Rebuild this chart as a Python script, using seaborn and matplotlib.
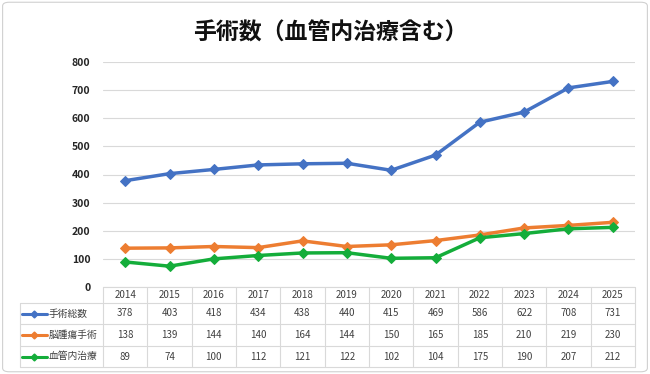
import numpy as np
import pandas as pd
import seaborn as sns
import matplotlib.pyplot as plt
from matplotlib.lines import Line2D
from matplotlib.patches import FancyBboxPatch

sns.set_theme(style="white")
plt.rcParams['font.family'] = ['Noto Sans CJK JP', 'DejaVu Sans']

years = [2014, 2015, 2016, 2017, 2018, 2019, 2020, 2021, 2022, 2023, 2024, 2025]
total = [378, 403, 418, 434, 438, 440, 415, 469, 586, 622, 708, 731]
brain_tumor = [138, 139, 144, 140, 164, 144, 150, 165, 185, 210, 219, 230]
endovascular = [89, 74, 100, 112, 121, 122, 102, 104, 175, 190, 207, 212]
series_names = ['手術総数', '脳腫瘍手術', '血管内治療']
colors = ['#4472C4', '#ED7D31', '#14AD3A']

df = pd.DataFrame({'idx': np.arange(len(years)), '手術総数': total,
                   '脳腫瘍手術': brain_tumor, '血管内治療': endovascular})

W, H = 650, 374
fig = plt.figure(figsize=(W / 100, H / 100), dpi=100)

# main plot area
ax = fig.add_axes([103 / W, 1 - 287 / H, 532 / W, 225 / H])
for name, c in zip(series_names, colors):
    sns.lineplot(data=df, x='idx', y=name, color=c, marker='D', markersize=5,
                 markeredgecolor=c, linewidth=2.5, ax=ax)
ax.set_xlim(-0.5, len(years) - 0.5)
ax.set_ylim(0, 800)
ax.set_yticks(range(0, 801, 100))
ax.set_xticks([])
ax.set_xlabel('')
ax.set_ylabel('')
ax.yaxis.grid(True, color='#d9d9d9', linewidth=0.8)
ax.set_axisbelow(True)
for s in ax.spines.values():
    s.set_visible(False)
ax.tick_params(axis='y', length=0, pad=9, labelsize=7.5)
for lab in ax.get_yticklabels():
    lab.set_fontweight('bold')

# data table under the plot
tax = fig.add_axes([20 / W, 1 - 367 / H, 615 / W, 80 / H])
lab_w = 83 / (532 / len(years))
x0 = -0.5 - lab_w
x1 = len(years) - 0.5
tax.set_xlim(x0, x1)
tax.set_ylim(80, 0)
tax.axis('off')
gc = '#d9d9d9'
row_edges = [16, 37, 59, 80]
for y in row_edges:
    tax.plot([x0, x1], [y, y], color=gc, lw=0.8, clip_on=False)
tax.plot([-0.5, x1], [0, 0], color=gc, lw=0.8, clip_on=False)
for k in range(len(years) + 1):
    tax.plot([-0.5 + k, -0.5 + k], [0, 80], color=gc, lw=0.8, clip_on=False)
tax.plot([x0, x0], [16, 80], color=gc, lw=0.8, clip_on=False)

for i, yr in enumerate(years):
    tax.text(i, 8.5, str(yr), ha='center', va='center', fontsize=7, color='#404040')

row_mid = [26.5, 48, 69.5]
for r, (name, c) in enumerate(zip(series_names, colors)):
    ym = row_mid[r]
    gx = [x0 + 0.05, x0 + 0.6]
    tax.add_line(Line2D(gx, [ym, ym], color=c, lw=2.2, clip_on=False))
    tax.add_line(Line2D([np.mean(gx)], [ym], color=c, marker='D', markersize=3.5,
                        clip_on=False))
    tax.text(x0 + 0.64, ym, name, ha='left', va='center', fontsize=7, color='#404040')
    for i, v in enumerate(df[name]):
        tax.text(i, ym, str(v), ha='center', va='center', fontsize=7, color='#404040')

fig.text(0.508, 1 - 33 / H, '手術数（血管内治療含む）', ha='center', va='center',
         fontsize=16.5, fontweight='bold', color='#111111')

border = FancyBboxPatch((0.004, 0.006), 0.992, 0.988, boxstyle='round,pad=0,rounding_size=0.01',
                        transform=fig.transFigure, facecolor='none', edgecolor='#d0d0d0', lw=0.8)
fig.add_artist(border)

fig.savefig('out.png', dpi=100)
